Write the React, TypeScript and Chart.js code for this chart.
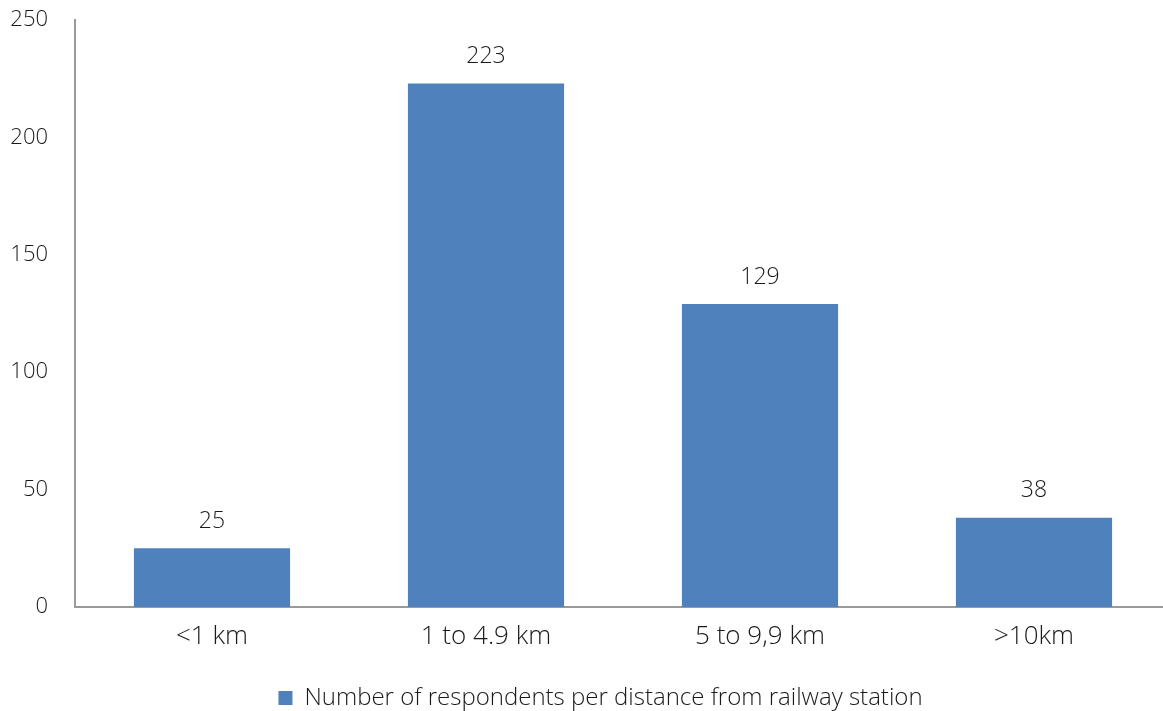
import React, { useEffect, useRef } from "react";
import { Chart, registerables } from "chart.js";

Chart.register(...registerables);

const categories = ["<1 km", "1 to 4.9 km", "5 to 9,9 km", ">10km"];
const respondents = [25, 223, 129, 38];
const seriesLabel = "Number of respondents per distance from railway station";
const yTicks = [0, 50, 100, 150, 200, 250];

const FONT = "'Open Sans', 'Segoe UI', sans-serif";
const BAR_COLOR = "#4F81BD";
const TEXT_COLOR = "#1a1a1a";
const AXIS_COLOR = "#9a9a9a";

// Draws each bar's value centred above it.
const valueLabels = {
  id: "valueLabels",
  afterDatasetsDraw(chart: Chart) {
    const ctx = chart.ctx;
    const meta = chart.getDatasetMeta(0);
    ctx.save();
    ctx.font = `300 23px ${FONT}`;
    ctx.fillStyle = TEXT_COLOR;
    ctx.textAlign = "center";
    ctx.textBaseline = "middle";
    meta.data.forEach((el: any, i: number) => {
      ctx.fillText(String(respondents[i]), el.x, el.y - 27);
    });
    ctx.restore();
  },
};

export default function App() {
  const canvasRef = useRef<HTMLCanvasElement | null>(null);

  useEffect(() => {
    if (!canvasRef.current) return;
    const chart = new Chart(canvasRef.current, {
      type: "bar",
      data: {
        labels: categories,
        datasets: [
          {
            label: seriesLabel,
            data: respondents,
            backgroundColor: BAR_COLOR,
            borderWidth: 0,
            categoryPercentage: 1,
            barPercentage: 0.57,
          },
        ],
      },
      options: {
        animation: false,
        responsive: false,
        layout: {
          autoPadding: false,
          padding: { top: 20, right: 0, left: 0, bottom: -9 },
        },
        plugins: {
          tooltip: { enabled: false },
          legend: {
            position: "bottom",
            labels: {
              boxWidth: 14,
              boxHeight: 14,
              padding: 2,
              color: TEXT_COLOR,
              font: { family: FONT, size: 24, weight: "300" as any },
            },
          },
        },
        scales: {
          x: {
            afterFit(scale: any) {
              scale.height = 77;
            },
            grid: { display: false, drawTicks: false },
            border: { display: true, color: AXIS_COLOR, width: 2 },
            ticks: {
              color: TEXT_COLOR,
              padding: 14,
              font: { family: FONT, size: 26, weight: "300" as any },
            },
          },
          y: {
            min: 0,
            max: 250,
            afterFit(scale: any) {
              scale.width = 75;
            },
            afterBuildTicks(scale: any) {
              scale.ticks = yTicks.map((v) => ({ value: v }));
            },
            // invisible tick marks keep the labels clear of the axis line
            grid: { display: false, drawTicks: true, tickLength: 27 },
            border: { display: true, color: AXIS_COLOR, width: 2 },
            ticks: {
              color: TEXT_COLOR,
              padding: 0,
              font: { family: FONT, size: 22, weight: "300" as any },
            },
          },
          // empty right-hand gutter
          yRight: {
            type: "linear",
            position: "right",
            min: 0,
            max: 250,
            afterFit(scale: any) {
              scale.width = 30;
            },
            grid: { display: false, drawTicks: false },
            border: { display: false },
            ticks: { display: false },
          },
        },
      },
      plugins: [valueLabels],
    });
    return () => chart.destroy();
  }, []);

  return (
    <div
      style={{
        position: "fixed",
        left: 0,
        top: 0,
        width: 1163,
        height: 711,
        overflow: "hidden",
        background: "#ffffff",
      }}
    >
      <canvas ref={canvasRef} width={1201} height={711} />
    </div>
  );
}
